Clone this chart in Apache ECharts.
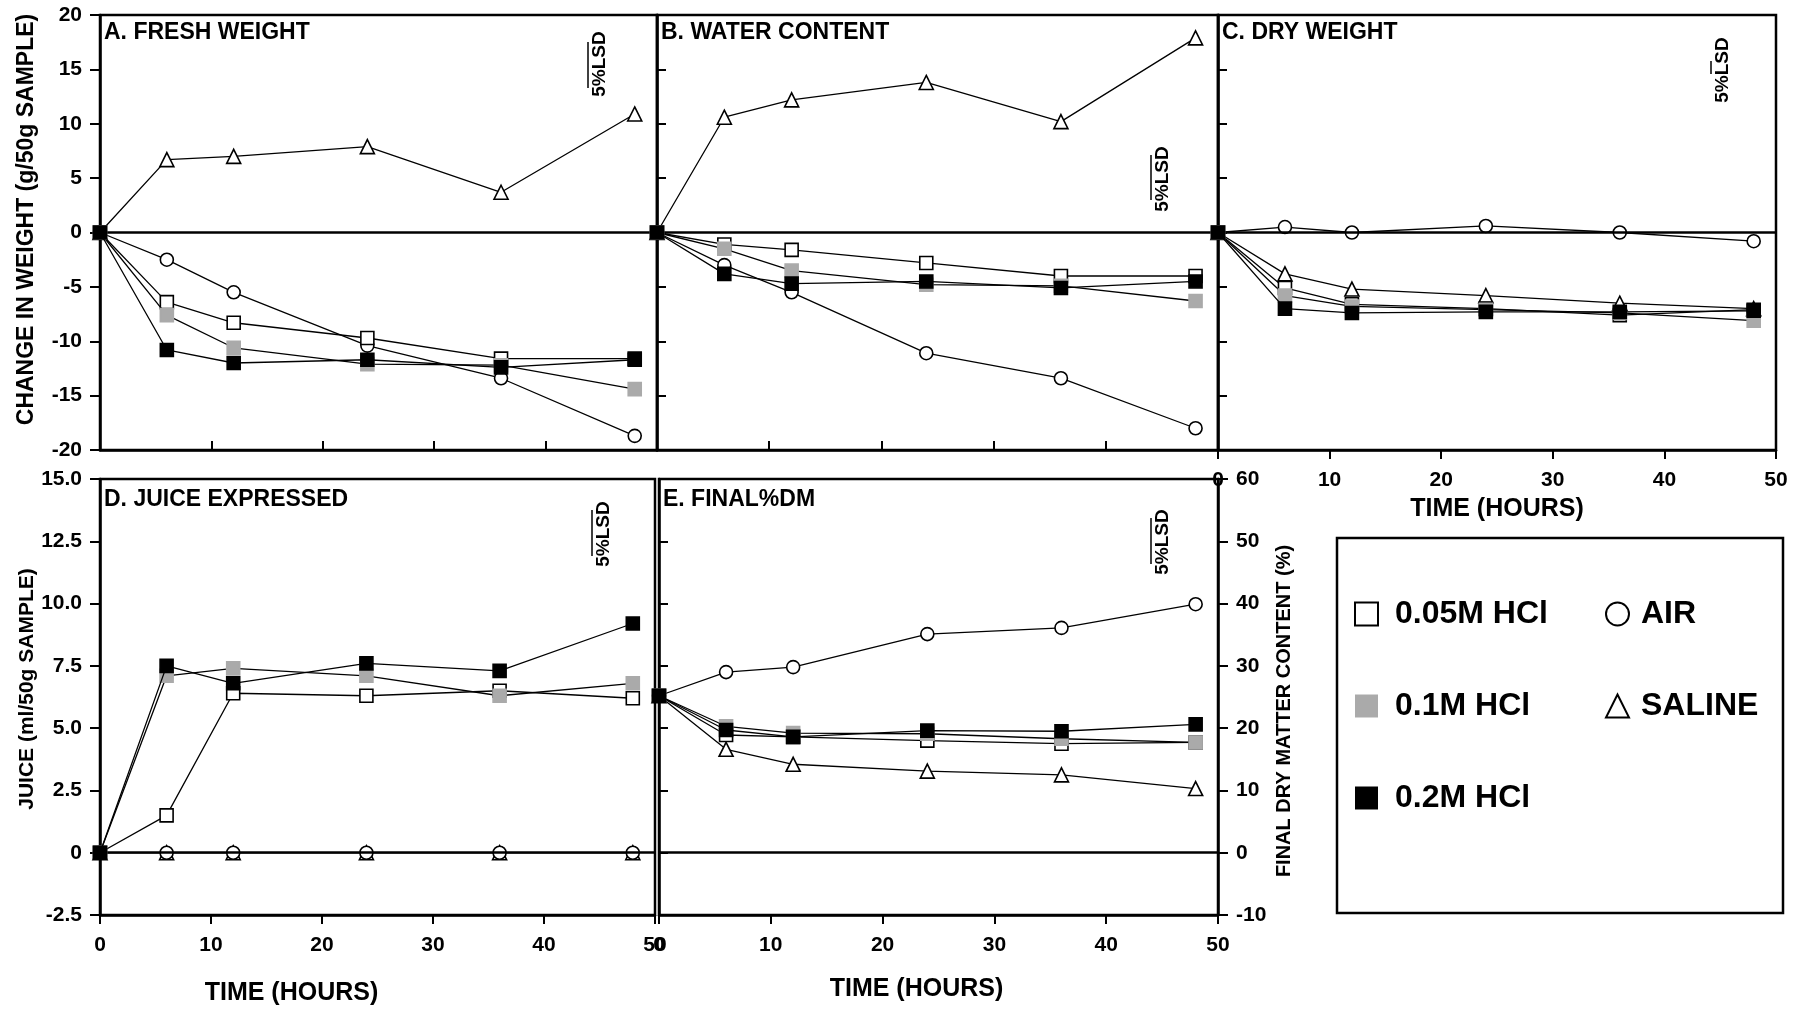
<!DOCTYPE html>
<html>
<head>
<meta charset="utf-8">
<title>Weight, juice and dry matter changes</title>
<script src="https://cdn.jsdelivr.net/npm/echarts@6.0.0/dist/echarts.min.js"></script>
<style>
html, body { margin: 0; padding: 0; background: #fff; }
#main { width: 1796px; height: 1010px; }
</style>
</head>
<body>
<div id="main"></div>
<script>
var hours = [0, 6, 12, 24, 36, 48];

// A. fresh weight change (g/50g sample)
var freshHcl005 = [0, -6.4, -8.3, -9.7, -11.6, -11.6];
var freshHcl01 = [0, -7.6, -10.6, -12.1, -12.2, -14.4];
var freshHcl02 = [0, -10.8, -12.0, -11.7, -12.4, -11.7];
var freshAir = [0, -2.5, -5.5, -10.4, -13.4, -18.7];
var freshSaline = [0, 6.7, 7.0, 7.9, 3.7, 10.9];

// B. water content
var waterHcl005 = [0, -1.1, -1.6, -2.8, -4.0, -4.0];
var waterHcl01 = [0, -1.5, -3.5, -4.8, -4.9, -6.3];
var waterHcl02 = [0, -3.8, -4.7, -4.5, -5.1, -4.5];
var waterAir = [0, -3.0, -5.5, -11.1, -13.4, -18.0];
var waterSaline = [0, 10.6, 12.2, 13.8, 10.2, 17.9];

// C. dry weight
var dryHcl005 = [0, -5.1, -6.6, -7.0, -7.6, -7.1];
var dryHcl01 = [0, -5.8, -6.8, -7.1, -7.4, -8.1];
var dryHcl02 = [0, -7.0, -7.4, -7.3, -7.3, -7.2];
var dryAir = [0, 0.5, 0, 0.6, 0, -0.8];
var drySaline = [0, -3.8, -5.2, -5.8, -6.5, -7.0];

// D. juice expressed (ml/50g sample)
var juiceHcl005 = [0, 1.5, 6.4, 6.3, 6.5, 6.2];
var juiceHcl01 = [0, 7.1, 7.4, 7.1, 6.3, 6.8];
var juiceHcl02 = [0, 7.5, 6.8, 7.6, 7.3, 9.2];
var juiceAir = [0, 0, 0, 0, 0, 0];
var juiceSaline = [0, 0, 0, 0, 0, 0];

// E. final dry matter content (%)
var dmHcl005 = [25.2, 18.9, 18.6, 18.0, 17.5, 17.7];
var dmHcl01 = [25.2, 20.3, 19.2, 19.1, 18.3, 17.7];
var dmHcl02 = [25.2, 19.7, 18.6, 19.6, 19.5, 20.6];
var dmAir = [25.2, 29.0, 29.8, 35.1, 36.1, 39.9];
var dmSaline = [25.2, 16.6, 14.2, 13.1, 12.5, 10.3];

var panelTitles = ['A. FRESH WEIGHT', 'B. WATER CONTENT', 'C. DRY WEIGHT', 'D. JUICE EXPRESSED', 'E. FINAL%DM'];
var hclNames = ['0.05M HCl', '0.1M HCl', '0.2M HCl'];
var otherNames = ['AIR', 'SALINE'];

var font = '"Liberation Sans", Arial, sans-serif';

// drawing order: last one ends on top
var treatments = [
	{name: 'SALINE', symbol: 'triangle', fill: '#fff', border: '#000', size: 14},
	{name: 'AIR', symbol: 'circle', fill: '#fff', border: '#000', size: 13},
	{name: '0.05M HCl', symbol: 'rect', fill: '#fff', border: '#000', size: 13},
	{name: '0.1M HCl', symbol: 'rect', fill: '#aaaaaa', border: '#aaaaaa', size: 13},
	{name: '0.2M HCl', symbol: 'rect', fill: '#000', border: '#000', size: 13}
];

var panels = [
	{x: 0, y: 0, values: [freshSaline, freshAir, freshHcl005, freshHcl01, freshHcl02]},
	{x: 1, y: 1, values: [waterSaline, waterAir, waterHcl005, waterHcl01, waterHcl02]},
	{x: 2, y: 2, values: [drySaline, dryAir, dryHcl005, dryHcl01, dryHcl02]},
	{x: 3, y: 3, values: [juiceSaline, juiceAir, juiceHcl005, juiceHcl01, juiceHcl02]},
	{x: 4, y: 5, values: [dmSaline, dmAir, dmHcl005, dmHcl01, dmHcl02]}
];

var grids = [
	{left: 100, top: 15, width: 557, height: 435},
	{left: 657, top: 15, width: 561, height: 435},
	{left: 1218, top: 15, width: 558, height: 435},
	{left: 100, top: 479, width: 555, height: 436},
	{left: 659, top: 479, width: 559, height: 436}
];

function timeAxis(idx, inside, labels, gap, shift) {
	return {
		type: 'value', gridIndex: idx, min: 0, max: 50, interval: 10,
		axisLine: {onZero: false, lineStyle: {color: '#000', width: 2.5}},
		axisTick: {inside: inside, length: 9, lineStyle: {color: '#000', width: 2}},
		axisLabel: {show: labels, margin: 20, color: '#000', fontWeight: 'bold', fontSize: 21, fontFamily: font},
		splitLine: {show: false},
		name: labels ? 'TIME (HOURS)' : '',
		nameLocation: 'middle',
		nameGap: gap,
		nameTextStyle: {color: '#000', fontWeight: 'bold', fontSize: 25, fontFamily: font, padding: [0, shift || 0, 0, 0]}
	};
}

function valueAxis(idx, min, max, step, opts) {
	var ax = {
		type: 'value', gridIndex: idx, min: min, max: max, interval: step,
		position: opts.position || 'left',
		axisLine: {onZero: false, lineStyle: {color: '#000', width: 2.5}},
		axisTick: {inside: !opts.labels, length: opts.labels ? 10 : 9, lineStyle: {color: '#000', width: 2}},
		axisLabel: {show: !!opts.labels, margin: 18, formatter: opts.formatter, color: '#000',
			fontWeight: 'bold', fontSize: 21, fontFamily: font},
		splitLine: {show: false}
	};
	if (opts.name) {
		ax.name = opts.name;
		ax.nameLocation = 'middle';
		ax.nameGap = opts.gap;
		ax.nameRotate = 90;
		ax.nameTextStyle = {color: '#000', fontWeight: 'bold', fontSize: opts.nameSize, fontFamily: font, padding: opts.pad};
	}
	return ax;
}

var xAxes = [
	timeAxis(0, true, false),
	timeAxis(1, true, false),
	timeAxis(2, false, true, 47),
	timeAxis(3, false, true, 66, 172),
	timeAxis(4, false, true, 62, 44)
];

var yAxes = [
	valueAxis(0, -20, 20, 5, {labels: true, name: 'CHANGE IN WEIGHT (g/50g SAMPLE)', gap: 62, nameSize: 23, pad: [0, 0, 0, 26]}),
	valueAxis(1, -20, 20, 5, {}),
	valueAxis(2, -20, 20, 5, {}),
	valueAxis(3, -2.5, 15, 2.5, {labels: true, name: 'JUICE (ml/50g SAMPLE)', gap: 62, nameSize: 21, pad: [0, 0, 0, 16],
		formatter: function(v) { return v === 0 ? '0' : v.toFixed(1); }}),
	valueAxis(4, -10, 60, 10, {}),
	valueAxis(4, -10, 60, 10, {labels: true, position: 'right', name: 'FINAL DRY MATTER CONTENT (%)', gap: 56, nameSize: 20, pad: [0, 28, 0, 0]})
];

var series = [];
panels.forEach(function(p) {
	treatments.forEach(function(t, ti) {
		var s = {
			name: t.name,
			type: 'line',
			xAxisIndex: p.x,
			yAxisIndex: p.y,
			data: hours.map(function(h, i) { return [h, p.values[ti][i]]; }),
			symbol: t.symbol,
			symbolSize: t.size,
			showSymbol: true,
			clip: false,
			lineStyle: {color: '#000', width: 1.3},
			itemStyle: {color: t.fill, borderColor: t.border, borderWidth: 1.6},
			emphasis: {disabled: true},
			z: 3 + ti
		};
		if (ti === 0) {
			s.markLine = {
				silent: true, symbol: 'none', animation: false,
				label: {show: false},
				lineStyle: {color: '#000', width: 2.5, type: 'solid'},
				data: [{yAxis: 0}]
			};
		}
		series.push(s);
	});
});

var titles = panelTitles.map(function(txt, i) {
	var g = grids[i];
	return {
		text: txt, left: g.left + 4, top: g.top + (i < 3 ? 6 : 9), padding: 0,
		textStyle: {color: '#000', fontWeight: 'bold', fontSize: 23, fontFamily: font}
	};
});

// 5% LSD marks (rotated text, the bar drawn as an overline)
var lsdMarks = [
	{x: 600, y: 64, bar: [42, 88]},
	{x: 1163, y: 179, bar: [155, 200]},
	{x: 1723, y: 70, bar: [61, 74]},
	{x: 604, y: 534, bar: [510, 556]},
	{x: 1163, y: 542, bar: [518, 564]}
];
var graphics = [];
lsdMarks.forEach(function(m) {
	graphics.push({
		type: 'text', x: m.x, y: m.y, rotation: Math.PI / 2,
		style: {text: '5%LSD', fill: '#000', font: 'bold 19px ' + font, align: 'center', verticalAlign: 'middle'}
	});
	graphics.push({
		type: 'line', shape: {x1: m.x - 12, y1: m.bar[0], x2: m.x - 12, y2: m.bar[1]},
		style: {stroke: '#000', lineWidth: 1.5}
	});
});
graphics.push({
	type: 'rect', shape: {x: 1337, y: 538, width: 446, height: 375},
	style: {fill: 'none', stroke: '#000', lineWidth: 2.5}
});

function legendItem(name) {
	var t = treatments.filter(function(d) { return d.name === name; })[0];
	return {
		name: name, icon: t.symbol,
		itemStyle: {color: t.fill, borderColor: t.border, borderWidth: t.fill === '#fff' ? 2 : 0}
	};
}
function legendText(gap) {
	return {color: '#000', fontWeight: 'bold', fontSize: 32, fontFamily: font, padding: [0, 0, 0, gap]};
}

var chart = echarts.init(document.getElementById('main'));
chart.setOption({
	animation: false,
	backgroundColor: '#fff',
	title: titles,
	grid: grids.map(function(g) {
		return {left: g.left, top: g.top, width: g.width, height: g.height, show: true,
			borderColor: '#000', borderWidth: 2.5, backgroundColor: 'transparent'};
	}),
	xAxis: xAxes,
	yAxis: yAxes,
	legend: [{
		left: 1349, top: 593, orient: 'vertical', itemGap: 60, itemWidth: 23, itemHeight: 23,
		selectedMode: false, textStyle: legendText(12), data: hclNames.map(legendItem)
	}, {
		left: 1600, top: 593, orient: 'vertical', itemGap: 60, itemWidth: 23, itemHeight: 23,
		selectedMode: false, textStyle: legendText(7), data: otherNames.map(legendItem)
	}],
	graphic: graphics,
	series: series
});
</script>
</body>
</html>
